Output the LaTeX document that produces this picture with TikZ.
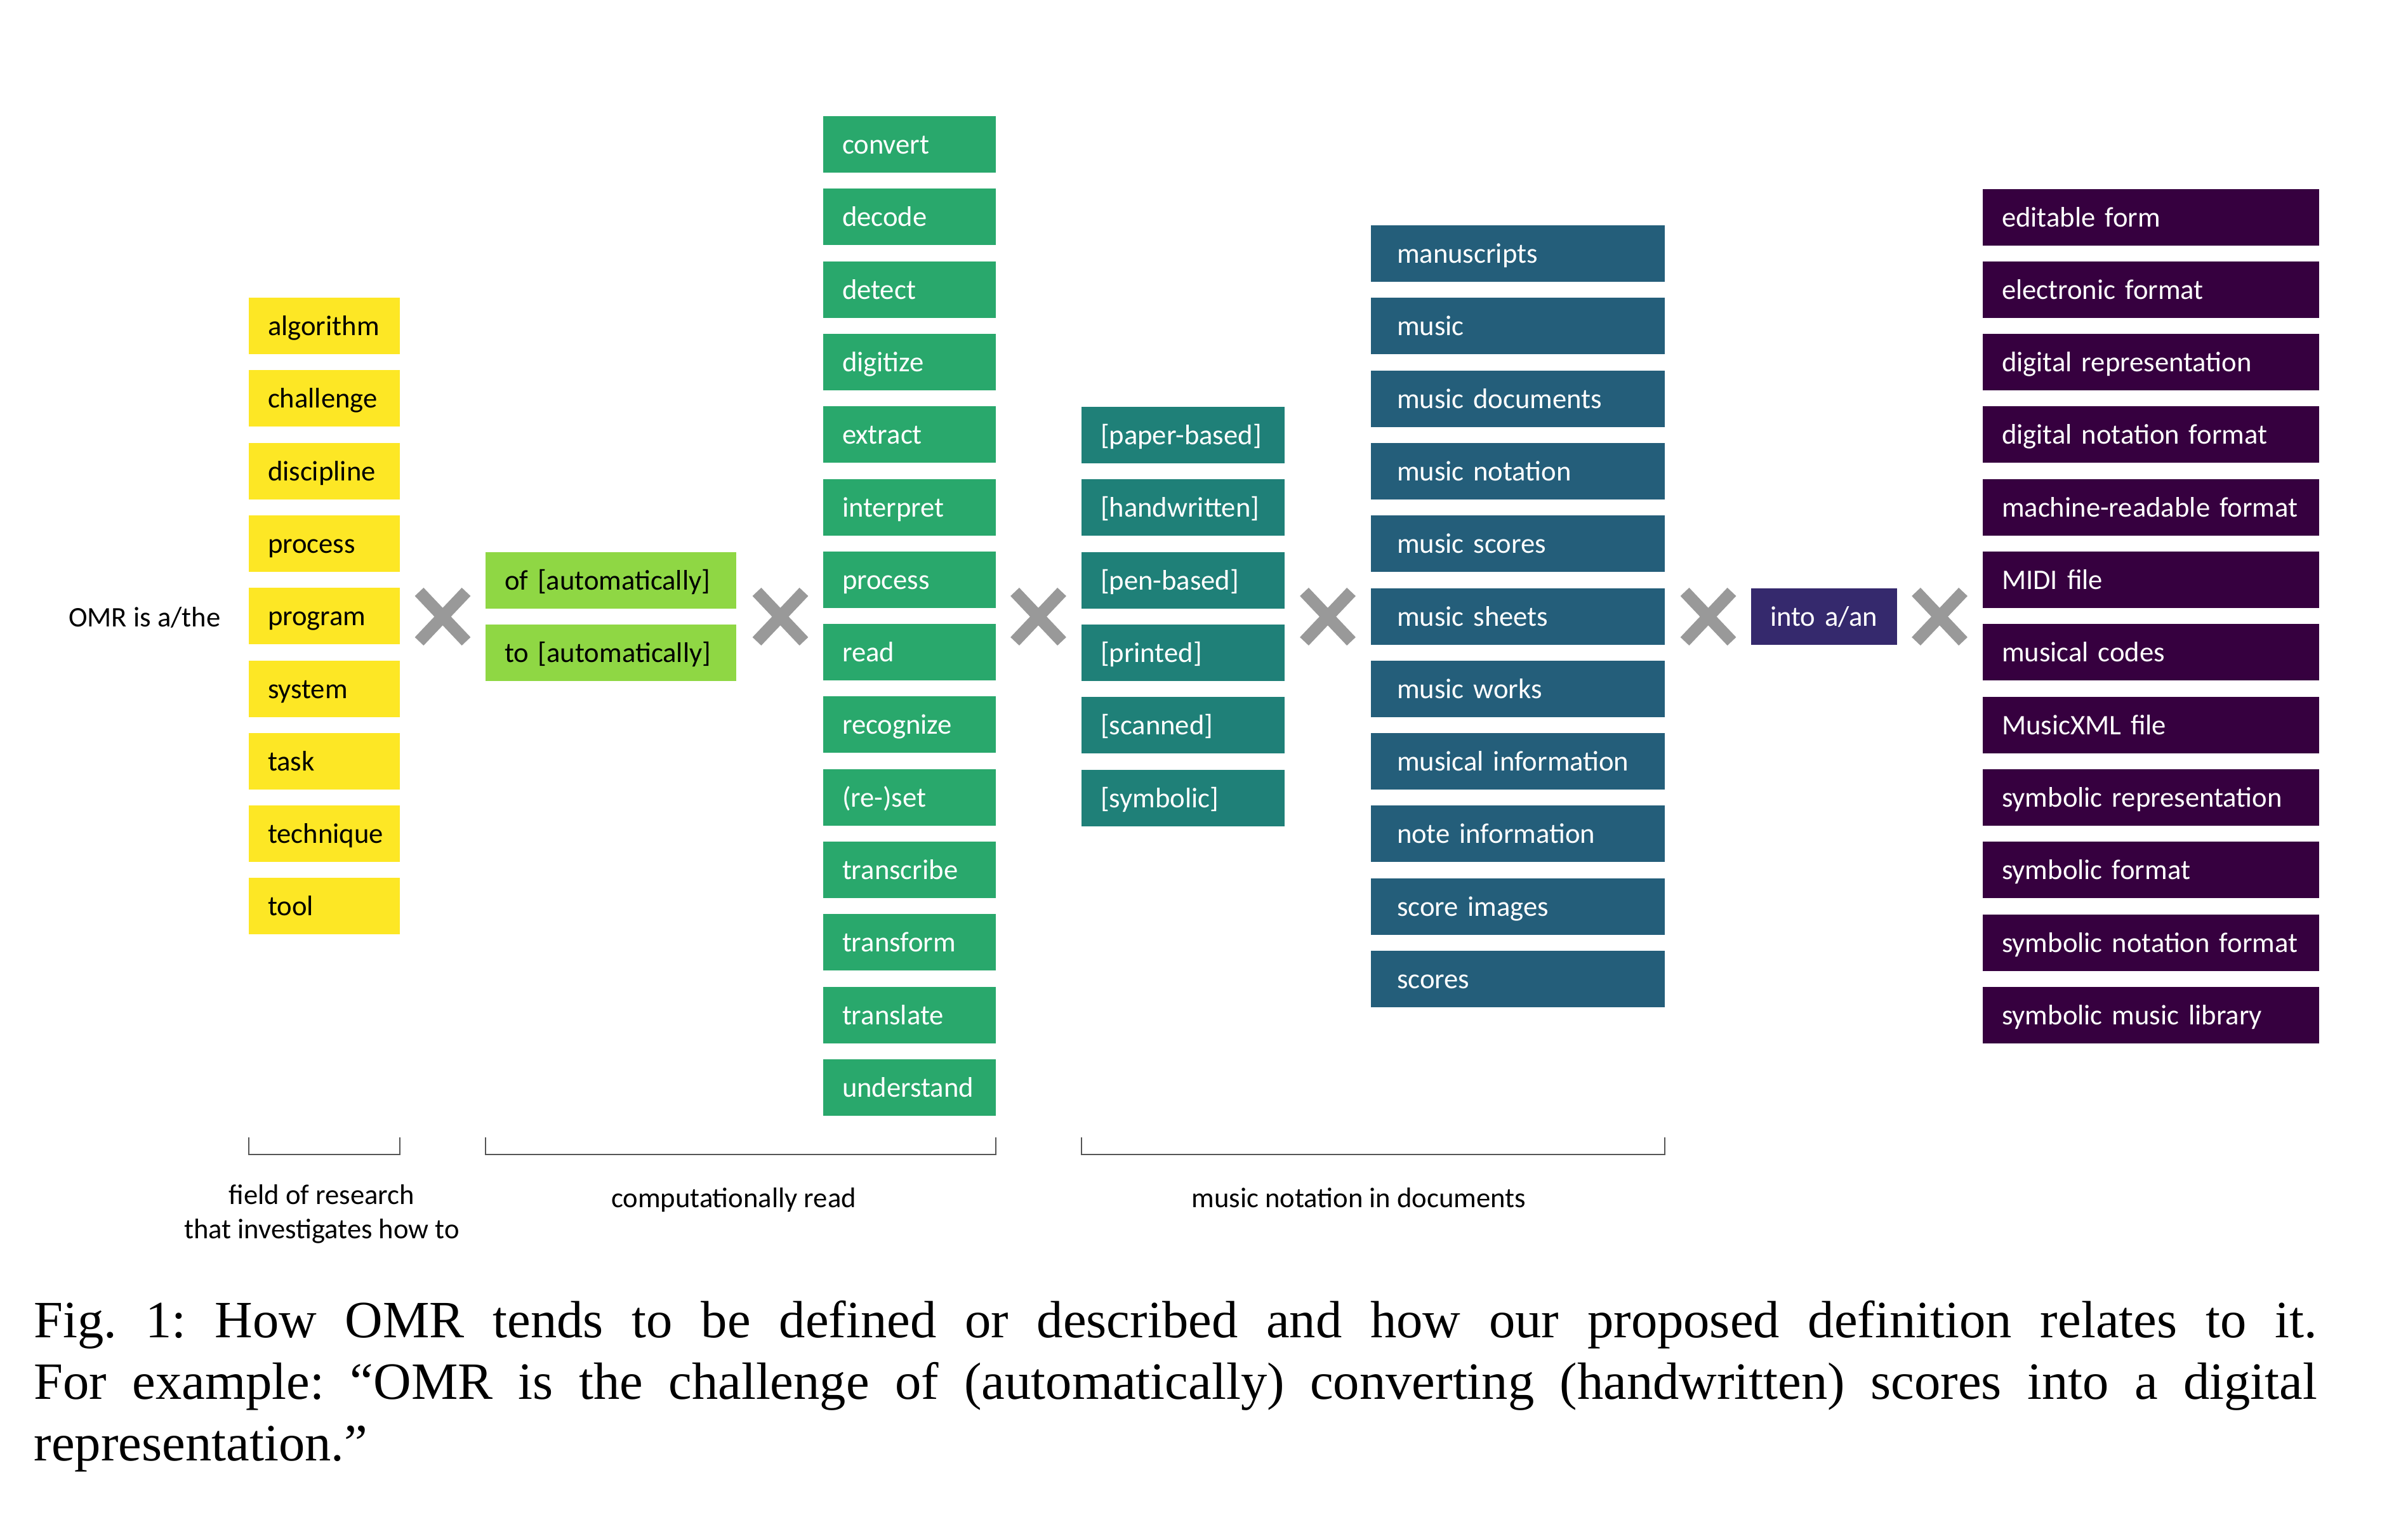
\documentclass[tikz,border=0pt]{standalone}
\usepackage{fontspec}
\setmainfont{Liberation Serif}
\newfontfamily\boxfont{Carlito}
\usetikzlibrary{positioning}
\usepackage{xcolor}
\definecolor{vyellow}{HTML}{FDE725}
\definecolor{vlime}{HTML}{8FD744}
\definecolor{vgreen}{HTML}{29A86C}
\definecolor{vteal}{HTML}{1F8078}
\definecolor{vblue}{HTML}{245E7A}
\definecolor{vindigo}{HTML}{35296D}
\definecolor{vpurple}{HTML}{36003F}
\definecolor{crossgray}{HTML}{999999}
\definecolor{bracketgray}{HTML}{555555}
\tikzset{
  wordbox/.style={rectangle, inner xsep=3mm, inner ysep=1mm, outer sep=0pt, minimum height=8.9mm, text height=3.2mm, text depth=0.2mm, align=left, font=\boxfont\fontsize{12.7pt}{15pt}\selectfont, text=white},
  fieldbox/.style={wordbox, fill=vyellow, text=black, text width=17.8mm},
  prepbox/.style={wordbox, fill=vlime, text=black, text width=33.5mm},
  verbbox/.style={wordbox, fill=vgreen, text width=21.2mm},
  adjbox/.style={wordbox, fill=vteal, text width=26mm},
  objbox/.style={wordbox, fill=vblue, inner xsep=4.1mm, text width=38.1mm},
  intobox/.style={wordbox, fill=vindigo, text width=17mm},
  fmtbox/.style={wordbox, fill=vpurple, text width=47mm},
  crossmark/.style={minimum width=10mm, minimum height=11mm, inner sep=0pt, path picture={
    \draw[crossgray, line width=1.9mm] ([shift={(-3.7mm,3.9mm)}]path picture bounding box.center) -- ([shift={(3.7mm,-3.9mm)}]path picture bounding box.center);
    \draw[crossgray, line width=1.9mm] ([shift={(-3.7mm,-3.9mm)}]path picture bounding box.center) -- ([shift={(3.7mm,3.9mm)}]path picture bounding box.center);
  }},
  bracket/.style={draw=bracketgray, line width=0.5pt},
  lbl/.style={font=\boxfont\fontsize{12.7pt}{15.4pt}\selectfont, inner sep=0pt},
  capnode/.style={inner sep=0pt, text width=35.97cm, align=justify, font=\fontsize{23.5pt}{27.6pt}\selectfont\frenchspacing}
}

\begin{document}
\begin{tikzpicture}[node distance=2.53mm]
  \useasboundingbox (0,0) rectangle (37.94,-23.86);
  \node[lbl, anchor=base east] (omr) at (3.48,-9.87) {OMR is a/the};
  % nouns
  \node[fieldbox, anchor=north west] (fld1) at (3.92,-4.69) {algorithm};
  \node[fieldbox, below=of fld1] (fld2) {challenge};
  \node[fieldbox, below=of fld2] (fld3) {discipline};
  \node[fieldbox, below=of fld3] (fld4) {process};
  \node[fieldbox, below=of fld4] (fld5) {program};
  \node[fieldbox, below=of fld5] (fld6) {system};
  \node[fieldbox, below=of fld6] (fld7) {task};
  \node[fieldbox, below=of fld7] (fld8) {technique};
  \node[fieldbox, below=of fld8] (fld9) {tool};
  \node[crossmark] (x1) at (6.975,-9.715) {};
  % prepositions
  \node[prepbox, anchor=north west] (prep1) at (7.65,-8.70) {of [automatically]};
  \node[prepbox, below=of prep1] (prep2) {to [automatically]};
  \node[crossmark] (x2) at (12.295,-9.715) {};
  % verbs
  \node[verbbox, anchor=north west] (verb1) at (12.97,-1.83) {convert};
  \node[verbbox, below=of verb1] (verb2) {decode};
  \node[verbbox, below=of verb2] (verb3) {detect};
  \node[verbbox, below=of verb3] (verb4) {digitize};
  \node[verbbox, below=of verb4] (verb5) {extract};
  \node[verbbox, below=of verb5] (verb6) {interpret};
  \node[verbbox, below=of verb6] (verb7) {process};
  \node[verbbox, below=of verb7] (verb8) {read};
  \node[verbbox, below=of verb8] (verb9) {recognize};
  \node[verbbox, below=of verb9] (verb10) {(re-)set};
  \node[verbbox, below=of verb10] (verb11) {transcribe};
  \node[verbbox, below=of verb11] (verb12) {transform};
  \node[verbbox, below=of verb12] (verb13) {translate};
  \node[verbbox, below=of verb13] (verb14) {understand};
  \node[crossmark] (x3) at (16.36,-9.715) {};
  % adjectives
  \node[adjbox, anchor=north west] (adj1) at (17.04,-6.41) {[paper-based]};
  \node[adjbox, below=of adj1] (adj2) {[handwritten]};
  \node[adjbox, below=of adj2] (adj3) {[pen-based]};
  \node[adjbox, below=of adj3] (adj4) {[printed]};
  \node[adjbox, below=of adj4] (adj5) {[scanned]};
  \node[adjbox, below=of adj5] (adj6) {[symbolic]};
  \node[crossmark] (x4) at (20.92,-9.715) {};
  % objects
  \node[objbox, anchor=north west] (obj1) at (21.60,-3.55) {manuscripts};
  \node[objbox, below=of obj1] (obj2) {music};
  \node[objbox, below=of obj2] (obj3) {music documents};
  \node[objbox, below=of obj3] (obj4) {music notation};
  \node[objbox, below=of obj4] (obj5) {music scores};
  \node[objbox, below=of obj5] (obj6) {music sheets};
  \node[objbox, below=of obj6] (obj7) {music works};
  \node[objbox, below=of obj7] (obj8) {musical information};
  \node[objbox, below=of obj8] (obj9) {note information};
  \node[objbox, below=of obj9] (obj10) {score images};
  \node[objbox, below=of obj10] (obj11) {scores};
  \node[crossmark] (x5) at (26.915,-9.715) {};
  \node[intobox, anchor=west] (into) at (27.59,-9.715) {into a/an};
  \node[crossmark] (x6) at (30.56,-9.715) {};
  % formats
  \node[fmtbox, anchor=north west] (fmt1) at (31.24,-2.975) {editable form};
  \node[fmtbox, below=of fmt1] (fmt2) {electronic format};
  \node[fmtbox, below=of fmt2] (fmt3) {digital representation};
  \node[fmtbox, below=of fmt3] (fmt4) {digital notation format};
  \node[fmtbox, below=of fmt4] (fmt5) {machine-readable format};
  \node[fmtbox, below=of fmt5] (fmt6) {MIDI file};
  \node[fmtbox, below=of fmt6] (fmt7) {musical codes};
  \node[fmtbox, below=of fmt7] (fmt8) {MusicXML file};
  \node[fmtbox, below=of fmt8] (fmt9) {symbolic representation};
  \node[fmtbox, below=of fmt9] (fmt10) {symbolic format};
  \node[fmtbox, below=of fmt10] (fmt11) {symbolic notation format};
  \node[fmtbox, below=of fmt11] (fmt12) {symbolic music library};
  % brackets
  \coordinate (brtop) at (0,-17.92);
  \coordinate (brbot) at (0,-18.19);
  \draw[bracket] (fld9.west |- brtop) -- (fld9.west |- brbot) -- (fld9.east |- brbot) -- (fld9.east |- brtop);
  \draw[bracket] (prep2.west |- brtop) -- (prep2.west |- brbot) -- (verb14.east |- brbot) -- (verb14.east |- brtop);
  \draw[bracket] (adj6.west |- brtop) -- (adj6.west |- brbot) -- (obj11.east |- brbot) -- (obj11.east |- brtop);
  \node[lbl, align=center, anchor=north] (lblfield) at (5.07,-18.66) {field of research\\that investigates how to};
  \node[lbl, anchor=base] (lblread) at (11.56,-19.02) {computationally read};
  \node[lbl, anchor=base] (lbldocs) at (21.41,-19.02) {music notation in documents};
  \node[capnode, anchor=north west] (cap) at (0.53,-20.49) {Fig. 1: How OMR tends to be defined or described and how our proposed definition relates to it.\linebreak For example: “OMR is the challenge of (automatically) converting (handwritten) scores into a digital\linebreak representation.”};
\end{tikzpicture}
\end{document}
